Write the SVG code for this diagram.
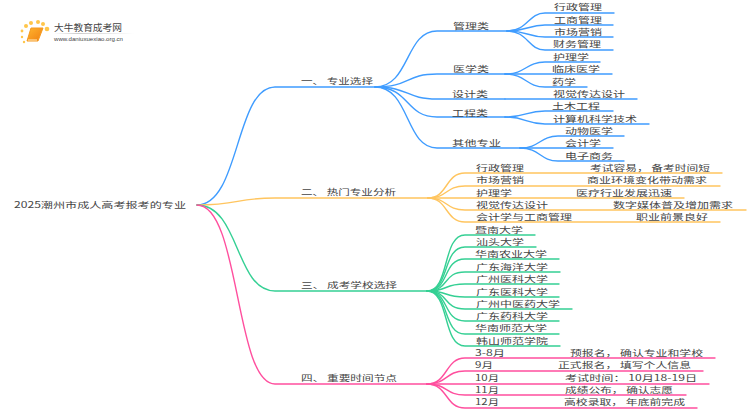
<svg xmlns="http://www.w3.org/2000/svg" width="750" height="410" viewBox="0 0 750 410">
<defs>
<linearGradient id="bk" x1="0" y1="0" x2="1" y2="1"><stop offset="0" stop-color="#ffb52e"/><stop offset="1" stop-color="#f07f12"/></linearGradient>
<linearGradient id="rule" x1="0" y1="0" x2="1" y2="0"><stop offset="0" stop-color="#ccc" stop-opacity="0"/><stop offset=".3" stop-color="#ccc"/><stop offset="1" stop-color="#ccc" stop-opacity="0"/></linearGradient>
</defs>
<style>
text{font-family:"Noto Sans CJK SC","Liberation Sans",sans-serif;font-size:8.4px;fill:#444}
.c{fill:none;stroke-width:1.4;stroke-linecap:round}
.b{stroke:#3f9cff}.o{stroke:#ffc55f}.g{stroke:#35d094}.p{stroke:#ff4f9e}
.d{fill:#ffc64a}
</style>
<rect width="750" height="410" fill="#fff"/>
<g id="logo">
<circle class="d" cx="26" cy="26" r="2"/><circle class="d" cx="22" cy="31" r="1.4"/><circle class="d" cx="31" cy="23" r="2"/><circle class="d" cx="38" cy="22" r="2"/><circle class="d" cx="43" cy="24" r="2"/><circle class="d" cx="47" cy="29" r="2.3"/><circle class="d" cx="22" cy="37" r="1.2"/><circle class="d" cx="24" cy="42" r="1.2"/>
<path d="M31 28H43L38 41H27Z" fill="url(#bk)" stroke="#f59a20" stroke-linejoin="round"/>
<path d="M28 40H37" stroke="#ffe0a8" stroke-width="1.2"/>
<text x="54" y="31" style="font-size:9.5px" textLength="68" lengthAdjust="spacingAndGlyphs">大牛教育成考网</text>
<rect x="54" y="33" width="80" height="1" fill="url(#rule)"/>
<text x="54" y="41" style="font-size:5.6px;font-family:'Liberation Sans',sans-serif" textLength="69" lengthAdjust="spacingAndGlyphs">www.daniuxuexiao.org.cn</text>
</g>
<g id="connectors">
<path class="c b" d="M197 205C240 205 235 87 275 87H375C410 87 405 31 437 31H507"/>
<path class="c b" d="M375 87C410 87 405 74 437 74H505"/>
<path class="c b" d="M375 87C410 87 405 99 437 99H505"/>
<path class="c b" d="M375 87C410 87 405 117 437 117H505"/>
<path class="c b" d="M375 87C410 87 405 148 437 148H520"/>
<path class="c b" d="M507 31C528 31 528 13 545 13H614"/>
<path class="c b" d="M507 31C528 31 528 25 545 25H613"/>
<path class="c b" d="M507 31C528 31 528 37 545 37H613"/>
<path class="c b" d="M507 31C528 31 528 50 545 50H613"/>
<path class="c b" d="M505 74C526 74 526 62 545 62H600"/>
<path class="c b" d="M505 74H612"/>
<path class="c b" d="M505 74C526 74 526 87 545 87H587"/>
<path class="c b" d="M505 99H637"/>
<path class="c b" d="M505 117C526 117 526 111 545 111H613"/>
<path class="c b" d="M505 117C526 117 526 124 545 124H649"/>
<path class="c b" d="M520 148C540 148 540 136 558 136H624"/>
<path class="c b" d="M520 148H613"/>
<path class="c b" d="M520 148C540 148 540 161 558 161H624"/>
<path class="c o" d="M197 205C240 205 235 198 275 198H428"/>
<path class="c o" d="M428 198C448 198 445 173 465 173H722"/>
<path class="c o" d="M428 198C448 198 445 186 465 186H720"/>
<path class="c o" d="M428 198H684"/>
<path class="c o" d="M428 198C448 198 445 210 465 210H746"/>
<path class="c o" d="M428 198C448 198 445 222 465 222H720"/>
<path class="c g" d="M197 205C240 205 235 291 275 291H427"/>
<path class="c g" d="M427 291C450 291 442 235 465 235H535"/>
<path class="c g" d="M427 291C450 291 442 247 465 247H536"/>
<path class="c g" d="M427 291C450 291 442 259 465 259H559"/>
<path class="c g" d="M427 291C450 291 442 272 465 272H560"/>
<path class="c g" d="M427 291C450 291 442 284 465 284H559"/>
<path class="c g" d="M427 291C450 291 442 297 465 297H559"/>
<path class="c g" d="M427 291C450 291 442 309 465 309H572"/>
<path class="c g" d="M427 291C450 291 442 321 465 321H559"/>
<path class="c g" d="M427 291C450 291 442 334 465 334H559"/>
<path class="c g" d="M427 291C450 291 442 346 465 346H560"/>
<path class="c p" d="M197 205C240 205 235 384 275 384H427"/>
<path class="c p" d="M427 384C448 384 445 358 465 358H715"/>
<path class="c p" d="M427 384C448 384 445 371 465 371H703"/>
<path class="c p" d="M427 384H709"/>
<path class="c p" d="M427 384C448 384 445 395 465 395H686"/>
<path class="c p" d="M427 384C448 384 445 408 465 408H697"/>
</g>
<g id="root"><text x="14" y="208" textLength="172" lengthAdjust="spacingAndGlyphs">2025潮州市成人高考报考的专业</text></g>
<g id="n1"><text x="301" y="84" textLength="72" lengthAdjust="spacingAndGlyphs">一、 专业选择</text></g>
<g id="n2"><text x="301" y="195" textLength="95" lengthAdjust="spacingAndGlyphs">二、 热门专业分析</text></g>
<g id="n3"><text x="301" y="288" textLength="96" lengthAdjust="spacingAndGlyphs">三、 成考学校选择</text></g>
<g id="n4"><text x="301" y="381" textLength="96" lengthAdjust="spacingAndGlyphs">四、 重要时间节点</text></g>
<g id="n1-1"><text x="453" y="29" textLength="36" lengthAdjust="spacingAndGlyphs">管理类</text></g>
<g id="n1-2"><text x="453" y="72" textLength="36" lengthAdjust="spacingAndGlyphs">医学类</text></g>
<g id="n1-3"><text x="452" y="97" textLength="36" lengthAdjust="spacingAndGlyphs">设计类</text></g>
<g id="n1-4"><text x="452" y="116" textLength="36" lengthAdjust="spacingAndGlyphs">工程类</text></g>
<g id="n1-5"><text x="452" y="146" textLength="49" lengthAdjust="spacingAndGlyphs">其他专业</text></g>
<g id="l1"><text x="554" y="10" textLength="48" lengthAdjust="spacingAndGlyphs">行政管理</text></g>
<g id="l2"><text x="554" y="23" textLength="48" lengthAdjust="spacingAndGlyphs">工商管理</text></g>
<g id="l3"><text x="554" y="35" textLength="48" lengthAdjust="spacingAndGlyphs">市场营销</text></g>
<g id="l4"><text x="553" y="47" textLength="48" lengthAdjust="spacingAndGlyphs">财务管理</text></g>
<g id="l5"><text x="553" y="60" textLength="36" lengthAdjust="spacingAndGlyphs">护理学</text></g>
<g id="l6"><text x="552" y="72" textLength="48" lengthAdjust="spacingAndGlyphs">临床医学</text></g>
<g id="l7"><text x="552" y="85" textLength="24" lengthAdjust="spacingAndGlyphs">药学</text></g>
<g id="l8"><text x="553" y="97" textLength="72" lengthAdjust="spacingAndGlyphs">视觉传达设计</text></g>
<g id="l9"><text x="552" y="109" textLength="48" lengthAdjust="spacingAndGlyphs">土木工程</text></g>
<g id="l10"><text x="553" y="122" textLength="84" lengthAdjust="spacingAndGlyphs">计算机科学技术</text></g>
<g id="l11"><text x="565" y="134" textLength="48" lengthAdjust="spacingAndGlyphs">动物医学</text></g>
<g id="l12"><text x="565" y="146" textLength="36" lengthAdjust="spacingAndGlyphs">会计学</text></g>
<g id="l13"><text x="565" y="159" textLength="48" lengthAdjust="spacingAndGlyphs">电子商务</text></g>
<g id="h1"><text x="476" y="171" textLength="48" lengthAdjust="spacingAndGlyphs">行政管理</text><text x="590" y="171" textLength="120" lengthAdjust="spacingAndGlyphs">考试容易， 备考时间短</text></g>
<g id="h2"><text x="476" y="183" textLength="48" lengthAdjust="spacingAndGlyphs">市场营销</text><text x="587" y="183" textLength="120" lengthAdjust="spacingAndGlyphs">商业环境变化带动需求</text></g>
<g id="h3"><text x="476" y="196" textLength="36" lengthAdjust="spacingAndGlyphs">护理学</text><text x="576" y="196" textLength="96" lengthAdjust="spacingAndGlyphs">医疗行业发展迅速</text></g>
<g id="h4"><text x="476" y="208" textLength="72" lengthAdjust="spacingAndGlyphs">视觉传达设计</text><text x="613" y="208" textLength="120" lengthAdjust="spacingAndGlyphs">数字媒体普及增加需求</text></g>
<g id="h5"><text x="476" y="220" textLength="96" lengthAdjust="spacingAndGlyphs">会计学与工商管理</text><text x="636" y="220" textLength="72" lengthAdjust="spacingAndGlyphs">职业前景良好</text></g>
<g id="s1"><text x="475" y="233" textLength="48" lengthAdjust="spacingAndGlyphs">暨南大学</text></g>
<g id="s2"><text x="476" y="245" textLength="48" lengthAdjust="spacingAndGlyphs">汕头大学</text></g>
<g id="s3"><text x="475" y="257" textLength="72" lengthAdjust="spacingAndGlyphs">华南农业大学</text></g>
<g id="s4"><text x="476" y="270" textLength="72" lengthAdjust="spacingAndGlyphs">广东海洋大学</text></g>
<g id="s5"><text x="476" y="282" textLength="72" lengthAdjust="spacingAndGlyphs">广州医科大学</text></g>
<g id="s6"><text x="476" y="295" textLength="72" lengthAdjust="spacingAndGlyphs">广东医科大学</text></g>
<g id="s7"><text x="476" y="307" textLength="84" lengthAdjust="spacingAndGlyphs">广州中医药大学</text></g>
<g id="s8"><text x="476" y="319" textLength="72" lengthAdjust="spacingAndGlyphs">广东药科大学</text></g>
<g id="s9"><text x="475" y="331" textLength="72" lengthAdjust="spacingAndGlyphs">华南师范大学</text></g>
<g id="s10"><text x="476" y="344" textLength="72" lengthAdjust="spacingAndGlyphs">韩山师范学院</text></g>
<g id="t1"><text x="475" y="356" textLength="30" lengthAdjust="spacingAndGlyphs">3-8月</text><text x="570" y="356" textLength="133" lengthAdjust="spacingAndGlyphs">预报名， 确认专业和学校</text></g>
<g id="t2"><text x="475" y="368" textLength="18" lengthAdjust="spacingAndGlyphs">9月</text><text x="558" y="368" textLength="133" lengthAdjust="spacingAndGlyphs">正式报名， 填写个人信息</text></g>
<g id="t3"><text x="475" y="381" textLength="24" lengthAdjust="spacingAndGlyphs">10月</text><text x="565" y="381" textLength="132" lengthAdjust="spacingAndGlyphs">考试时间： 10月18-19日</text></g>
<g id="t4"><text x="475" y="393" textLength="24" lengthAdjust="spacingAndGlyphs">11月</text><text x="565" y="393" textLength="108" lengthAdjust="spacingAndGlyphs">成绩公布， 确认志愿</text></g>
<g id="t5"><text x="475" y="405" textLength="24" lengthAdjust="spacingAndGlyphs">12月</text><text x="564" y="405" textLength="121" lengthAdjust="spacingAndGlyphs">高校录取， 年底前完成</text></g>
</svg>
